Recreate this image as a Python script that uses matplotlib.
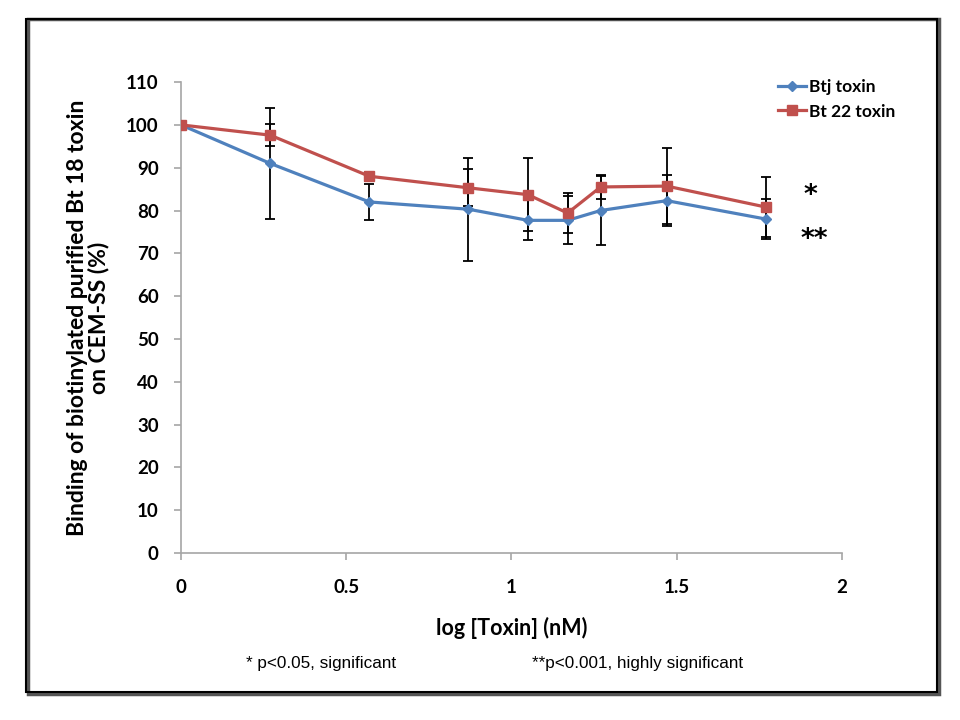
import numpy as np
import matplotlib.pyplot as plt
from matplotlib.patches import Rectangle

# data
log_toxin = [0, 0.27, 0.57, 0.87, 1.05, 1.17, 1.27, 1.47, 1.77]
btj = [100, 91.0, 82.0, 80.3, 77.7, 77.7, 80.0, 82.3, 78.0]
btj_err = [0, 13.0, 4.3, 12.0, 4.7, 5.6, 8.1, 5.9, 4.6]
bt22 = [100, 97.6, 88.0, 85.3, 83.7, 79.4, 85.5, 85.7, 80.8]
bt22_err = [0, 2.6, 1.0, 4.3, 8.5, 4.6, 2.8, 8.8, 7.0]

fnt = 'Lato'
note_fnt = ['Liberation Sans Narrow', 'Liberation Sans']
blue = '#4F81BD'
red = '#C0504D'

fig = plt.figure(figsize=(9.6, 7.2), dpi=100)
ax = fig.add_axes([0.1885, 0.232, 0.6885, 0.654])

ax.errorbar(log_toxin, btj, yerr=btj_err, fmt='none', ecolor='black',
            elinewidth=1.3, capsize=3.5, capthick=1.3, zorder=2)
ax.errorbar(log_toxin, bt22, yerr=bt22_err, fmt='none', ecolor='black',
            elinewidth=1.3, capsize=3.5, capthick=1.3, zorder=2)
ax.plot(log_toxin, btj, color=blue, lw=2.3, marker='D', ms=5.5,
        label='Btj toxin', zorder=3)
ax.plot(log_toxin, bt22, color=red, lw=2.3, marker='s', ms=7.5,
        label='Bt 22 toxin', zorder=4)

ax.text(1.905, 83.3, '*', fontsize=19, fontweight='bold', ha='center', va='center')
ax.text(1.915, 73.0, '**', fontsize=19, fontweight='bold', ha='center', va='center')

ax.set_xlim(0, 2)
ax.set_ylim(0, 110)
ax.set_xticks([0, 0.5, 1, 1.5, 2])
ax.set_xticklabels(['0', '0.5', '1', '1.5', '2'])
ax.set_yticks(np.arange(0, 111, 10))
for s in ['top', 'right']:
    ax.spines[s].set_visible(False)
for s in ['left', 'bottom']:
    ax.spines[s].set_color('#A6A6A6')
    ax.spines[s].set_linewidth(1.2)
ax.tick_params(axis='both', colors='#A6A6A6', length=5, width=1.2)
for lab in ax.get_xticklabels() + ax.get_yticklabels():
    lab.set_color('black')
    lab.set_fontsize(13.5)
    lab.set_fontweight('bold')
    lab.set_family(fnt)
ax.tick_params(axis='x', pad=14)
ax.tick_params(axis='y', pad=11)

ax.set_xlabel('log [Toxin] (nM)', fontsize=15.5, fontweight='bold', family=fnt, labelpad=15)
ax.set_ylabel('Binding of biotinylated purified Bt 18 toxin\non CEM-SS (%)',
              fontsize=16.5, fontweight='bold', family=fnt, labelpad=12, linespacing=1.0)

leg = ax.legend(loc='upper right', bbox_to_anchor=(1.105, 1.04), frameon=False,
                prop={'family': fnt, 'weight': 'bold', 'size': 12.5},
                handlelength=1.6, handletextpad=0.2, labelspacing=0.5)

fig.text(0.334, 0.079, '* p<0.05, significant', fontsize=12.3,
         family=note_fnt, ha='center', va='center')
fig.text(0.664, 0.079, '**p<0.001, highly significant', fontsize=12.3,
         family=note_fnt, ha='center', va='center')

# outer frame with slight shadow
fig.patches.append(Rectangle((0.029, 0.036), 0.949, 0.937, transform=fig.transFigure,
                             fill=False, edgecolor='#555555', lw=2.5, zorder=0))
fig.patches.append(Rectangle((0.027, 0.039), 0.949, 0.934, transform=fig.transFigure,
                             fill=False, edgecolor='black', lw=1.5, zorder=1))

fig.savefig('out.png', dpi=100)
